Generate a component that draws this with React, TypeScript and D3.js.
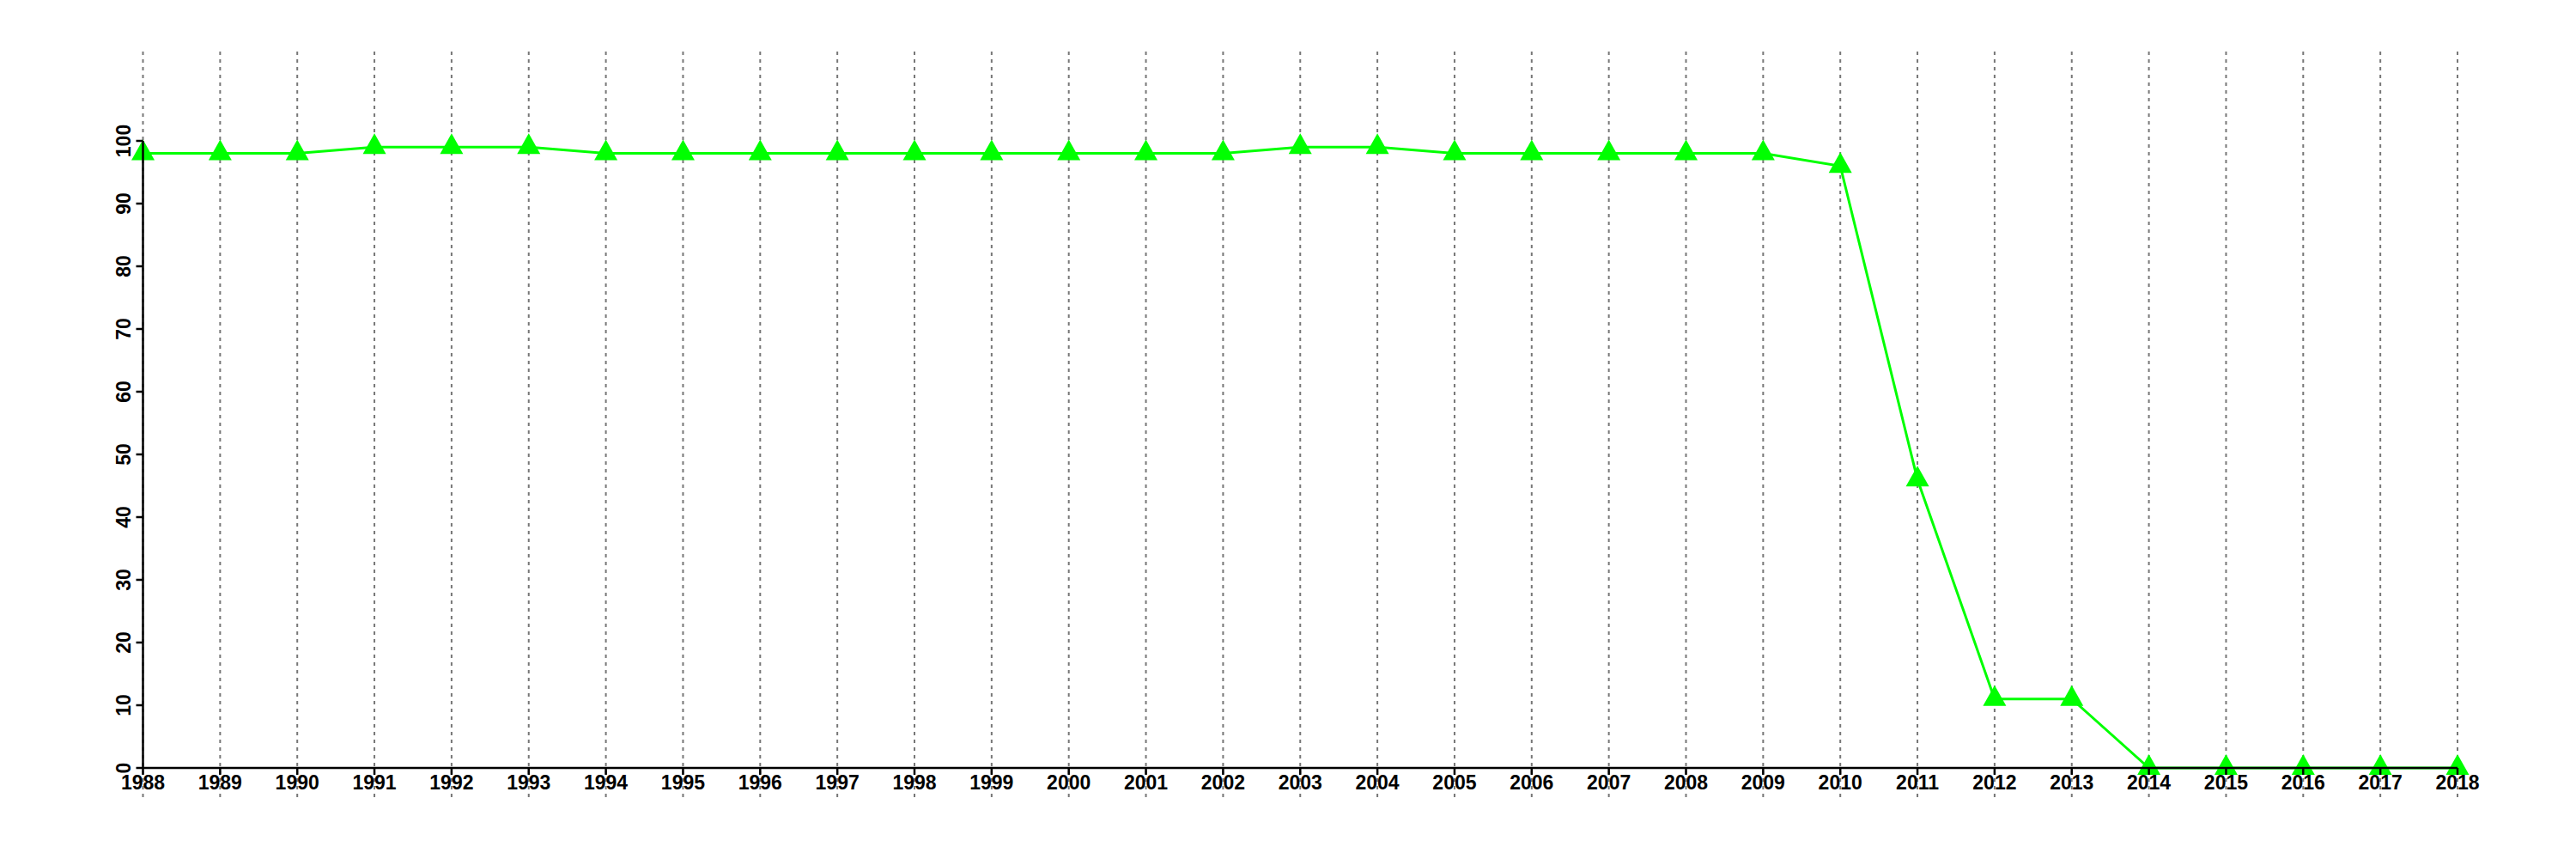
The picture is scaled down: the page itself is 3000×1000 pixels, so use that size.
import React from "react";
import * as d3 from "d3";

const years: number[] = [
  1988, 1989, 1990, 1991, 1992, 1993, 1994, 1995, 1996, 1997, 1998, 1999, 2000,
  2001, 2002, 2003, 2004, 2005, 2006, 2007, 2008, 2009, 2010, 2011, 2012, 2013,
  2014, 2015, 2016, 2017, 2018,
];
const values: number[] = [
  98, 98, 98, 99, 99, 99, 98, 98, 98, 98, 98, 98, 98, 98, 98, 99, 99, 98, 98, 98,
  98, 98, 96, 46, 11, 11, 0, 0, 0, 0, 0,
];
const yTicks: number[] = [0, 10, 20, 30, 40, 50, 60, 70, 80, 90, 100];

export default function App() {
  const W = 3000;
  const H = 1000;
  const x = d3.scaleLinear().domain([1988, 2018]).range([166.5, 2862]);
  const y = d3.scaleLinear().domain([0, 100]).range([894, 164]);
  const line = d3
    .line<number>()
    .x((_, i) => x(years[i]))
    .y((d) => y(d));
  const font = "'Liberation Sans', Arial, Helvetica, sans-serif";
  const tri = (cx: number, cy: number) =>
    `M${cx},${cy - 16}L${cx + 13.5},${cy + 8}L${cx - 13.5},${cy + 8}Z`;
  return (
    <svg
      width={W}
      height={H}
      style={{ position: "absolute", left: 0, top: 0, background: "#fff" }}
    >
      <rect x={0} y={0} width={W} height={H} fill="#fff" />
      {years.map((yr) => (
        <line
          key={"g" + yr}
          x1={x(yr)}
          x2={x(yr)}
          y1={60}
          y2={928}
          stroke="#777"
          strokeWidth={2}
          strokeDasharray="4,5"
        />
      ))}
      <path
        d={line(values) || ""}
        fill="none"
        stroke="#00ff00"
        strokeWidth={3}
      />
      {values.map((v, i) => (
        <path key={"m" + i} d={tri(x(years[i]), y(v))} fill="#00ff00" />
      ))}
      {/* y axis */}
      <line x1={x(1988)} x2={x(1988)} y1={y(100)} y2={y(0)} stroke="#000" strokeWidth={2.5} />
      {yTicks.map((t) => (
        <g key={"yt" + t}>
          <line x1={x(1988) - 8} x2={x(1988)} y1={y(t)} y2={y(t)} stroke="#000" strokeWidth={2.5} />
          <text
            transform={`translate(152,${y(t)}) rotate(-90)`}
            textAnchor="middle"
            fontFamily={font}
            fontWeight="bold"
            fontSize={23}
            fill="#000"
          >
            {t}
          </text>
        </g>
      ))}
      {/* x axis */}
      <line x1={x(1988)} x2={x(2018)} y1={y(0)} y2={y(0)} stroke="#000" strokeWidth={2.5} />
      {years.map((yr) => (
        <g key={"xt" + yr}>
          <line x1={x(yr)} x2={x(yr)} y1={y(0)} y2={y(0) + 8} stroke="#000" strokeWidth={2.5} />
          <text
            x={x(yr)}
            y={918.5}
            textAnchor="middle"
            fontFamily={font}
            fontWeight="bold"
            fontSize={23}
            fill="#000"
          >
            {yr}
          </text>
        </g>
      ))}
    </svg>
  );
}
